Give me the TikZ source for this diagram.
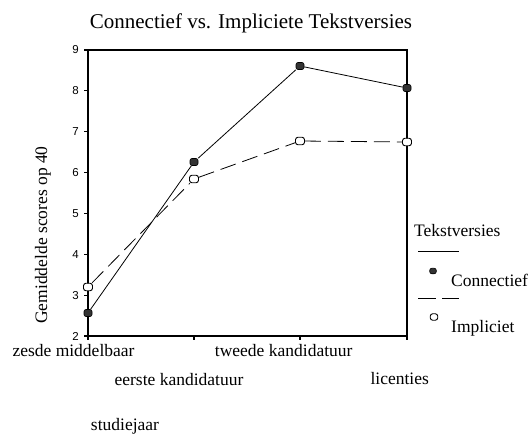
\documentclass[tikz,border=0pt]{standalone}
\usepackage{fontspec}
\setmainfont{Liberation Serif}
\newfontfamily\sansf{Liberation Sans}
\begin{document}
\begin{tikzpicture}[x=1pt,y=-1pt,
  lbl/.style={font=\fontsize{17.5}{18}\selectfont, inner sep=0pt},
  ticklbl/.style={font=\sansf\fontsize{11.5}{12}\selectfont, inner sep=0pt, anchor=east},
  axisline/.style={line width=1.1pt},
  serline/.style={line width=0.8pt},
  dashline/.style={line width=0.8pt, dash pattern=on 16pt off 7pt},
  cmark/.style={draw=black, fill=black!80, rounded corners=2pt, minimum width=8pt, minimum height=7pt, inner sep=0pt, line width=0.6pt},
  imark/.style={draw=black, fill=white, rounded corners=2.5pt, minimum width=9pt, minimum height=7.5pt, inner sep=0pt, line width=0.9pt}]
\useasboundingbox (0,0) rectangle (531,434);
% title
\node[font=\fontsize{21}{24}\selectfont, inner sep=0pt] (title) at (251,23) {Connectief vs. Impliciete Tekstversies};
% axes box
\draw[axisline] (88,50) rectangle (407,336);
% y ticks
\foreach \v in {2,...,9} {
  \pgfmathsetmacro{\yy}{336-(\v-2)*40.857}
  \draw[axisline] (84,\yy) -- (88,\yy);
  \node[ticklbl] (t\v) at (79,\yy) {\v};
}
% x ticks
\foreach \xx in {88,194,300,407} {
  \draw[axisline] (\xx,336) -- (\xx,340);
}
% axis labels
\node[lbl, rotate=90] (ylab) at (43,235) {Gemiddelde scores op 40};
\node[lbl] (x1) at (73.5,351) {zesde middelbaar};
\node[lbl] (x2) at (179,380) {eerste kandidatuur};
\node[lbl] (x3) at (283.7,351) {tweede kandidatuur};
\node[lbl] (x4) at (399.7,379) {licenties};
\node[lbl] (xlab) at (125,426) {studiejaar};
% data markers
\node[imark] (i1) at (88,287) {};
\node[imark] (i2) at (194,179) {};
\node[imark] (i3) at (300,141) {};
\node[imark] (i4) at (407,142) {};
\node[cmark] (c1) at (88,313) {};
\node[cmark] (c2) at (194,162) {};
\node[cmark] (c3) at (300,66) {};
\node[cmark] (c4) at (407,88) {};
% series lines
\draw[serline] (c1) -- (c2) -- (c3) -- (c4);
\draw[dashline] (i1) -- (i2) -- (i3) -- (i4);
% legend
\node[lbl, anchor=west] (legtitle) at (414,231) {Tekstversies};
\coordinate (ls1) at (418,251);
\coordinate (ls2) at (459,251);
\draw[serline] (ls1) -- (ls2);
\node[cmark, minimum width=6.5pt, minimum height=5.5pt] (lc) at (433,271) {};
\node[lbl, anchor=west] (lct) at (451,280) {Connectief};
\coordinate (ld1) at (418,298);
\coordinate (ld2) at (459,298);
\draw[serline, dash pattern=on 18pt off 6pt] (ld1) -- (ld2);
\node[imark, minimum width=7.5pt, minimum height=6.5pt] (li) at (434,317) {};
\node[lbl, anchor=west] (lit) at (451,328) {Impliciet};
\end{tikzpicture}
\end{document}
